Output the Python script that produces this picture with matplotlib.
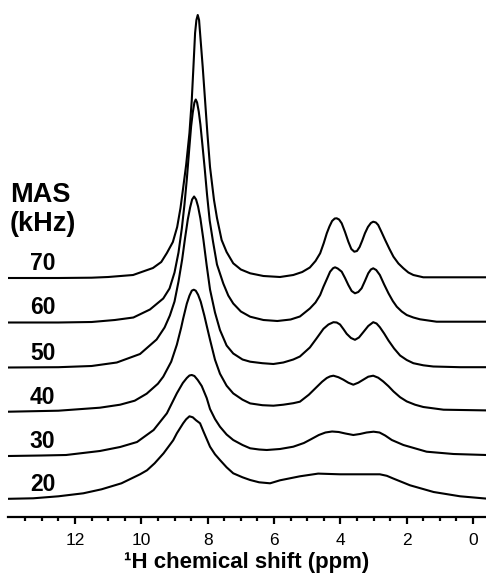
import matplotlib
matplotlib.use("Agg")
import matplotlib.pyplot as plt
from matplotlib.ticker import FixedLocator

plt.rcParams['font.family'] = ['Liberation Sans', 'DejaVu Sans']

# MAS rates (kHz), bottom to top
mas_labels = ["20", "30", "40", "50", "60", "70"]
# vertical offsets of each trace (stacking)
offsets = [0.0, 43.3, 87.6, 131.8, 176.8, 221.3]
major_ticks = [0, 2, 4, 6, 8, 10, 12]
minor_ticks = [0.5, 1, 1.5, 2.5, 3, 3.5, 4.5, 5, 5.5, 6.5, 7, 7.5, 8.5, 9, 9.5, 10.5, 11, 11.5, 12.5, 13, 13.5]

# --- spectra: chemical shift (ppm) and intensity (a.u.) ---
ppm_70 = [14.0, 12.5, 11.5, 11.0, 10.25, 9.65, 9.4, 9.23, 9.05, 8.92, 8.82, 8.74, 8.65, 8.55, 8.48, 8.43, 8.38,
          8.34, 8.30, 8.26, 8.23, 8.15, 8.08, 8.01, 7.93, 7.81, 7.72, 7.58, 7.43, 7.23, 7.0, 6.72, 6.32, 5.82, 5.42,
          5.15, 4.92, 4.75, 4.61, 4.5, 4.41, 4.33, 4.25, 4.17, 4.11, 4.04, 3.96, 3.86, 3.76, 3.67, 3.58, 3.50,
          3.42, 3.34, 3.26, 3.17, 3.08, 3.01, 2.93, 2.86, 2.76, 2.65, 2.52, 2.40, 2.25, 2.10, 1.95, 1.80, 1.50, -0.4]
int_70 = [0, 0, 0.3, 1, 3, 10, 16, 25, 36, 51, 70, 90, 113, 145, 178, 211, 245,
          258, 263, 258, 245, 211, 178, 145, 111, 78, 60, 38, 26, 14.7, 8.5, 4.7, 2, 1, 3,
          6, 10.5, 17, 24.7, 35, 44.7, 51.5, 57, 59.5, 59.7, 58.5, 54.7, 46, 36.3, 29, 26.3, 27,
          31, 37.5, 44.7, 51, 55, 56.3, 55.5, 53, 46, 38, 29, 21.3, 14.5, 9.7, 5.5, 3, 0.7, 0.7]

ppm_60 = [14.0, 12.5, 11.5, 10.8, 10.24, 9.74, 9.34, 9.15, 9.0, 8.88, 8.78, 8.70, 8.63, 8.56, 8.50, 8.45, 8.40,
          8.36, 8.32, 8.27, 8.22, 8.16, 8.09, 8.02, 7.94, 7.84, 7.72, 7.53, 7.38, 7.23, 7.0, 6.72, 6.32, 5.9,
          5.5, 5.22, 4.92, 4.75, 4.61, 4.51, 4.40, 4.31, 4.22, 4.16, 4.08, 3.96, 3.86, 3.76, 3.66, 3.56, 3.46,
          3.36, 3.26, 3.16, 3.08, 3.01, 2.92, 2.81, 2.68, 2.55, 2.42, 2.30, 2.15, 2.0, 1.80, 1.60, 1.10, -0.4]
int_60 = [0, 0, 0.5, 2.5, 5, 13, 24, 34, 50, 70, 94, 118, 143, 172, 196, 210, 220,
          223, 220, 211, 198, 178, 154, 128, 102, 81, 58, 39, 27, 19, 11, 5.8, 2.5, 1.5,
          3, 6, 14, 20, 27.5, 35.8, 44, 50.8, 54.3, 55.2, 54, 50.8, 44.5, 37.5, 31.5, 29.2, 30.5,
          34.2, 41.5, 49.2, 53, 54.2, 52.5, 47.5, 38, 29.2, 21.5, 15.8, 11, 7.5, 5, 3.2, 0.8, 0.8]

ppm_50 = [14.0, 12.5, 11.5, 10.74, 10.04, 9.54, 9.3, 9.14, 9.0, 8.88, 8.77, 8.68, 8.60, 8.53, 8.47, 8.41,
          8.35, 8.29, 8.22, 8.13, 8.03, 7.93, 7.78, 7.63, 7.43, 7.23, 6.95, 6.72, 6.35, 6.02, 5.72, 5.42, 5.22,
          4.92, 4.72, 4.51, 4.36, 4.21, 4.11, 4.01, 3.91, 3.81, 3.68, 3.56, 3.44, 3.31, 3.16, 3.01, 2.91, 2.81,
          2.68, 2.55, 2.38, 2.20, 2.0, 1.80, 1.50, 1.20, 0.39, -0.4]
int_50 = [0, 0.3, 1.5, 5, 13.5, 28, 40, 52, 66, 86, 108, 130, 148, 160, 168, 171,
          168, 161, 149, 128, 102, 78, 55, 37.5, 22, 14, 8, 5.8, 4.3, 3.5, 5, 8, 11,
          20, 29, 38.7, 43, 45.3, 45, 43, 38.5, 33.7, 29.5, 27.7, 30, 35.3, 41.5, 45.3, 44, 40.3,
          34, 27, 19, 12, 7.5, 4.3, 2.2, 1, 0.3, 0.3]

ppm_40 = [14.0, 12.5, 11.25, 10.64, 10.2, 9.84, 9.5, 9.34, 9.1, 8.93, 8.8, 8.74, 8.63, 8.55, 8.48, 8.42,
          8.36, 8.29, 8.21, 8.10, 8.03, 7.93, 7.78, 7.63, 7.43, 7.23, 6.95, 6.72, 6.35, 6.02, 5.72, 5.42, 5.22,
          4.95, 4.72, 4.55, 4.41, 4.31, 4.21, 4.06, 3.91, 3.76, 3.61, 3.46, 3.31, 3.16, 3.01, 2.86, 2.71, 2.55,
          2.40, 2.2, 2.0, 1.75, 1.50, 0.89, -0.4]
int_40 = [0, 1, 4, 7, 11, 18, 28, 35, 50, 67, 84, 93, 108, 116, 121, 122,
          121, 117, 110, 96, 86, 72, 52, 38, 26, 18.3, 12, 8.3, 6.5, 6, 7, 8.5, 10,
          17, 24.5, 30, 33.7, 35.3, 36, 34.5, 32, 29, 27, 29, 32, 35, 36, 34, 30.3, 25.5,
          20.3, 14.5, 10.3, 7, 4.7, 2, 1.3]

ppm_30 = [14.0, 13.0, 12.27, 11.25, 10.64, 10.13, 9.63, 9.23, 8.93, 8.75, 8.63, 8.55, 8.48, 8.40, 8.30,
          8.18, 8.03, 7.93, 7.78, 7.63, 7.43, 7.23, 6.95, 6.72, 6.45, 6.22, 5.82, 5.42, 5.1, 4.9, 4.65, 4.45,
          4.25, 4.05, 3.85, 3.61, 3.41, 3.21, 3.0, 2.82, 2.65, 2.45, 2.10, 1.40, 0.59, -0.4]
int_30 = [0, 0.5, 1, 5, 9, 14, 26, 42.7, 62.7, 73, 78, 80.5, 81, 80, 76,
          70, 58, 47, 37, 29.3, 21.5, 16, 11, 7.7, 6.5, 6, 7, 9.3, 13, 16.5, 21, 23.5,
          24.5, 24, 22.5, 21, 22, 23.5, 24.3, 23.5, 20.5, 16, 11, 4.3, 2, 1]

ppm_20 = [14.0, 13.26, 12.5, 11.75, 11.2, 10.6, 10.04, 9.83, 9.6, 9.33, 9.04, 8.93, 8.74, 8.65, 8.55, 8.45,
          8.35, 8.23, 8.13, 7.93, 7.78, 7.63, 7.43, 7.23, 6.95, 6.72, 6.45, 6.12, 5.82, 5.22, 4.67, 4.3, 4.01,
          3.5, 2.81, 2.60, 2.40, 1.90, 1.19, 0.39, -0.4]
int_20 = [0.5, 1, 3, 6, 10, 16, 25, 29, 36, 46, 59, 66, 76, 80, 83, 82,
          79, 76, 68, 52.6, 45, 39.3, 32, 26, 22, 19.3, 17, 16, 19, 23, 25.7, 25.3, 25,
          25, 25, 23.5, 20.7, 14, 7.3, 3, 0.7]

spectra = [(ppm_20, int_20), (ppm_30, int_30), (ppm_40, int_40),
           (ppm_50, int_50), (ppm_60, int_60), (ppm_70, int_70)]

fig = plt.figure(figsize=(4.86, 5.77), dpi=100)
ax = fig.add_axes([8 / 486, (577 - 516.5) / 577, 478 / 486, 516.5 / 577])

for (x, y), off, lab in zip(spectra, offsets, mas_labels):
    ax.plot(x, [v + off for v in y], color='black', lw=1.5, solid_joinstyle='round')
    ax.text(13.36, off + 8, lab, fontsize=16.5, fontweight='bold', ha='left', va='baseline')

ax.text(13.96, 499.3 - 202, 'MAS', fontsize=19.5, fontweight='bold', ha='left', va='baseline')
ax.text(13.96, 499.3 - 231, '(kHz)', fontsize=19.5, fontweight='bold', ha='left', va='baseline')

ax.set_xlim(14.02, -0.39)
ax.set_ylim(-17.2, 499.3)
for s in ['left', 'right', 'top']:
    ax.spines[s].set_visible(False)
ax.spines['bottom'].set_linewidth(1.6)
ax.set_yticks([])
ax.xaxis.set_major_locator(FixedLocator(major_ticks))
ax.xaxis.set_minor_locator(FixedLocator(minor_ticks))
ax.tick_params(axis='x', which='major', length=5, width=1.6, direction='out', pad=7, labelsize=12.5)
ax.tick_params(axis='x', which='minor', length=3, width=1.6, direction='out')
ax.set_xlabel('\u00b9H chemical shift (ppm)', fontsize=16, fontweight='bold', labelpad=3)
ax.patch.set_alpha(0)

fig.savefig('out.png', dpi=100, facecolor='white')
